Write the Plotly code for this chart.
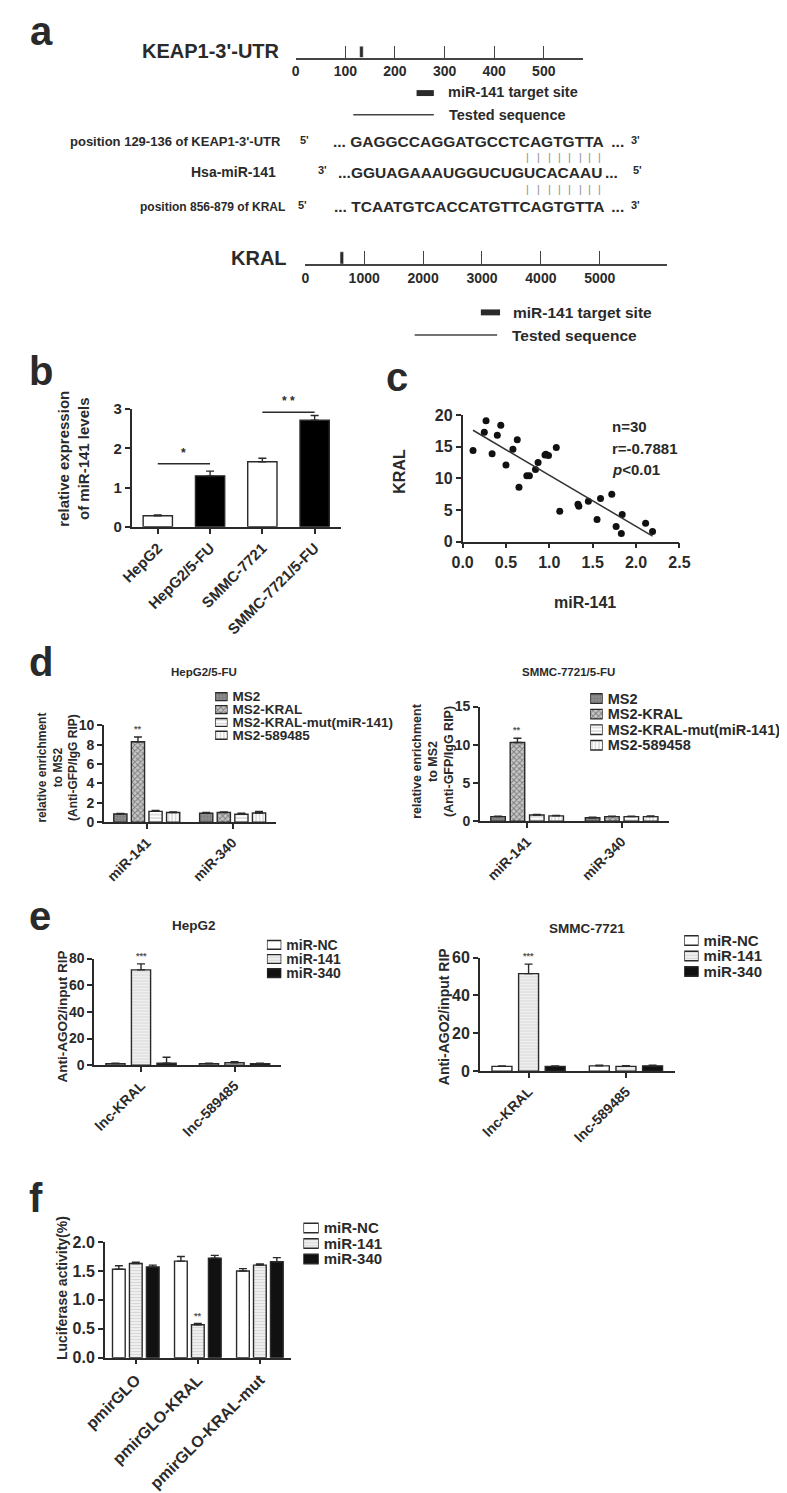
import numpy as np
import plotly.graph_objects as go

W, H = 787, 1493
FONT = "Liberation Sans, Arial, sans-serif"
INK = "#2a2a2a"
BARGAP, GROUPGAP = 0.18, 0.25

# ---------------- data ----------------
# a: transcript schematics
keap1_ticks = [0, 100, 200, 300, 400, 500]
keap1_site = [129, 136]
kral_ticks = [0, 1000, 2000, 3000, 4000, 5000]
kral_site = [590, 650]  # where the site mark sits on the drawn KRAL bar
seq_keap1 = "GAGGCCAGGATGCCTCAGTGTTA"
seq_mir141 = "GGUAGAAAUGGUCUGUCACAAU"
seq_kral = "TCAATGTCACCATGTTCAGTGTTA"
seed_len = 8

# b: miR-141 expression
b_cells = ["HepG2", "HepG2/5-FU", "SMMC-7721", "SMMC-7721/5-FU"]
b_mean = [0.28, 1.30, 1.66, 2.72]
b_err = [0.02, 0.12, 0.09, 0.12]
b_pairs = [(0, 1, 1.61, "*"), (2, 3, 2.92, "* *")]

# c: correlation
c_mir141 = [0.12, 0.25, 0.27, 0.34, 0.40, 0.44, 0.50, 0.58, 0.63, 0.65,
            0.74, 0.77, 0.84, 0.87, 0.96, 0.99, 1.08, 1.12, 1.33, 1.34,
            1.45, 1.55, 1.59, 1.72, 1.77, 1.84, 1.83, 2.11, 2.19, 0.95]
c_kral = [14.4, 17.3, 19.1, 13.9, 16.8, 18.4, 12.1, 14.6, 16.1, 8.6,
          10.4, 10.4, 11.4, 12.5, 13.8, 13.6, 14.9, 4.8, 5.9, 5.6,
          6.4, 3.5, 6.8, 7.5, 2.4, 4.3, 1.3, 2.9, 1.6, 13.7]
c_stats = ["n=30", "r=-0.7881", "<i>p</i>&lt;0.01"]

# d: MS2-RIP
d_groups = ["miR-141", "miR-340"]
dl_series = ["MS2", "MS2-KRAL", "MS2-KRAL-mut(miR-141)", "MS2-589485"]
dl_mean = [[0.85, 0.92], [8.30, 1.00], [1.12, 0.82], [1.00, 0.95]]
dl_err = [[0.05, 0.08], [0.50, 0.06], [0.10, 0.10], [0.05, 0.15]]
dr_series = ["MS2", "MS2-KRAL", "MS2-KRAL-mut(miR-141)", "MS2-589458"]
dr_mean = [[0.60, 0.45], [10.3, 0.60], [0.80, 0.60], [0.70, 0.60]]
dr_err = [[0.05, 0.08], [0.55, 0.05], [0.08, 0.05], [0.05, 0.08]]

# e: AGO2-RIP
e_groups = ["lnc-KRAL", "lnc-589485"]
e_series = ["miR-NC", "miR-141", "miR-340"]
el_mean = [[1.2, 1.2], [71.5, 1.8], [1.5, 1.2]]
el_err = [[0.3, 0.3], [4.5, 0.8], [4.5, 0.3]]
er_mean = [[2.5, 2.8], [51.5, 2.5], [2.5, 2.8]]
er_err = [[0.3, 0.3], [5.0, 0.4], [0.3, 0.3]]

# f: luciferase
f_groups = ["pmirGLO", "pmirGLO-KRAL", "pmirGLO-KRAL-mut"]
f_mean = [[1.53, 1.67, 1.50], [1.63, 0.57, 1.60], [1.57, 1.72, 1.66]]
f_err = [[0.06, 0.08, 0.04], [0.02, 0.02, 0.02], [0.03, 0.05, 0.07]]


# ---------------- helpers ----------------
def px(x):
    return x / W


def py(y):
    return 1 - y / H


def tfont(size, color=INK):
    return dict(family=FONT, size=size, color=color, weight="bold")


def marker(fill, shape="", fg=INK, size=4, solidity=0.3):
    return dict(color=fill, line=dict(color=INK, width=1.4),
                pattern=dict(shape=shape, fgcolor=fg, bgcolor=fill, size=size, solidity=solidity))


ms2_styles = [marker("#8f8f8f", ".", "#555555", 3, 0.3),
              marker("#c8c8c8", "x", "#333333", 4, 0.45),
              marker("white", "-", "#a0a0a0", 3.5, 0.35),
              marker("white", "|", "#a0a0a0", 3.5, 0.35)]
mir_styles = [marker("white"),
              marker("#efefef", "-", "#bdbdbd", 3, 0.3),
              marker("#111111")]

fig = go.Figure()
layout = {}
annots = []
shapes = []


def ax_name(n):
    return "" if n == 1 else str(n)


def set_axes(n, left, right, top, bottom, xa, ya):
    s = ax_name(n)
    layout["xaxis" + s] = dict(domain=[px(left), px(right)], anchor="y" + s, fixedrange=True, **xa)
    layout["yaxis" + s] = dict(domain=[py(bottom), py(top)], anchor="x" + s, fixedrange=True, **ya)
    return "x" + s, "y" + s


AXBASE = dict(showline=True, linecolor=INK, linewidth=1.6, ticks="outside", ticklen=5,
              tickwidth=1.6, tickcolor=INK, showgrid=False, zeroline=False)


def plot_axes(n, box, yrange, dtick, xsize, ysize, tickformat=None, xangle=-45):
    xa = dict(AXBASE, tickfont=tfont(xsize), tickangle=xangle)
    ya = dict(AXBASE, tickfont=tfont(ysize), range=yrange, dtick=dtick, tick0=0)
    if tickformat:
        ya["tickformat"] = tickformat
    return set_axes(n, *box, xa, ya)


def grouped_bars(refs, groups, series, means, errs, styles):
    x, y = refs
    for name, m, e, st in zip(series, means, errs, styles):
        fig.add_trace(go.Bar(x=groups, y=m, name=name, marker=st, xaxis=x, yaxis=y,
                             error_y=dict(type="data", array=e, arrayminus=[0] * len(e),
                                          symmetric=False, color=INK, thickness=1.4, width=4)))


def bar_offset(i, n):
    slot = (1 - BARGAP) / n
    return -(1 - BARGAP) / 2 + slot * (i + 0.5)


def star(refs, gi, si, n, mean, err, text, size=9):
    x, y = refs
    annots.append(dict(x=gi + bar_offset(si, n), y=mean[si][gi] + err[si][gi], xref=x, yref=y,
                       text=text, showarrow=False, yanchor="bottom", yshift=1,
                       font=tfont(size, "#555555")))


def legend_box(n, names, styles, left, right, top, bottom, size):
    xa = dict(range=[0, 1], visible=False)
    ya = dict(type="category", categoryorder="array", categoryarray=names, autorange="reversed",
              tickmode="array", tickvals=names, ticktext=names,
              side="right", showline=False, ticks="", showgrid=False, zeroline=False,
              tickfont=tfont(size), ticklabelstandoff=4)
    x, y = set_axes(n, left, right, top, bottom, xa, ya)
    for name, st in zip(names, styles):
        fig.add_trace(go.Bar(x=[1], y=[name], orientation="h", marker=st, offsetgroup="leg",
                             xaxis=x, yaxis=y, hoverinfo="skip"))


def text(x, y, s, size, anchor="left", angle=0, color=INK, bold=True):
    f = tfont(size, color) if bold else dict(family=FONT, size=size, color=color)
    annots.append(dict(x=px(x), y=py(y), xref="paper", yref="paper", text=s, showarrow=False,
                       xanchor=anchor, yanchor="middle", textangle=angle, font=f, borderpad=0))


# ---------------- a ----------------
# advance widths of Arial bold capitals (em) to line the pairing bars up with the letters
EM = {"A": 0.722, "C": 0.722, "G": 0.778, "T": 0.611, "U": 0.722}


def schematic(n, box, span, ticks, site, size):
    xa = dict(range=[0, span], tickvals=ticks, showline=True, linecolor="#444444", linewidth=1.5,
              ticks="inside", ticklen=box[3] - box[2], tickwidth=1.4, tickcolor="#444444",
              showgrid=False, zeroline=False, tickfont=tfont(size))
    ya = dict(range=[0, 1], visible=False)
    x, y = set_axes(n, *box, xa, ya)
    fig.add_trace(go.Bar(x=[np.mean(site)], y=[0.95], width=[site[1] - site[0]],
                         marker=dict(color=INK), xaxis=x, yaxis=y))


def sequence(y, core, right, size, lead, tail, end_mark, end_x):
    text(right, y, lead + core, size, "right")
    text(right + 1, y, tail, size)
    text(end_x, y - 2, end_mark, 11, "center")


def pair_bars(y, core, right, size):
    pos = right
    for ch in core[::-1][:seed_len]:
        w = EM[ch] * size
        text(pos - w / 2, y, "|", 11, "center", color="#8c8c8c", bold=False)
        pos -= w


schematic(1, (278, 578, 29, 41), 580, keap1_ticks, keap1_site, 14)
schematic(2, (288, 665, 237, 250), 6140, kral_ticks, kral_site, 14)

text(0, 14, "a", 40)
text(263, 34, "KEAP1-3'-UTR", 20, "right")
text(436, 76, "miR-141 target site", 14.5)
text(437, 99, "Tested sequence", 14.5)
shapes.append(dict(type="rect", x0=px(404), x1=px(422), y0=py(80), y1=py(74), xref="paper",
                   yref="paper", fillcolor=INK, line=dict(width=0)))
shapes.append(dict(type="line", x0=px(338), x1=px(422), y0=py(99), y1=py(99), xref="paper",
                   yref="paper", line=dict(color="#444444", width=1.5)))

SEQ = 15.5
SEQ_END = 600
text(264, 126, "position 129-136 of KEAP1-3'-UTR", 13, "right")
text(287, 124, "5'", 11, "center")
sequence(126, seq_keap1, SEQ_END, SEQ, "... ", " ...", "3'", 632)
pair_bars(142, seq_keap1, SEQ_END, SEQ)
text(258, 157, "Hsa-miR-141", 14, "right")
text(306, 155, "3'", 11, "center")
sequence(157, seq_mir141, SEQ_END - 2, SEQ, "...", "...", "5'", 634)
pair_bars(174, seq_keap1, SEQ_END, SEQ)
text(268, 192, "position 856-879 of KRAL", 12, "right")
text(285, 190, "5'", 11, "center")
sequence(192, seq_kral, SEQ_END, SEQ, "... ", " ...", "3'", 632)

text(270, 244, "KRAL", 20, "right")
text(503, 299, "miR-141 target site", 15.5)
text(502, 322, "Tested sequence", 15.5)
shapes.append(dict(type="rect", x0=px(471), x1=px(491), y0=py(302), y1=py(296), xref="paper",
                   yref="paper", fillcolor=INK, line=dict(width=0)))
shapes.append(dict(type="line", x0=px(402), x1=px(488), y0=py(322), y1=py(322), xref="paper",
                   yref="paper", line=dict(color="#444444", width=1.5)))

# ---------------- b ----------------
rb = plot_axes(3, (107, 325, 397, 516), [0, 3], 1, 15, 15)
fig.add_trace(go.Bar(x=b_cells, y=b_mean, width=0.56, xaxis=rb[0], yaxis=rb[1],
                     marker=dict(color=["white", "black", "white", "black"],
                                 line=dict(color=INK, width=1.4)),
                     error_y=dict(type="data", array=b_err, arrayminus=[0] * 4, symmetric=False,
                                  color=INK, thickness=1.4, width=4)))
for i0, i1, yv, s in b_pairs:
    shapes.append(dict(type="line", x0=i0, x1=i1, y0=yv, y1=yv, xref=rb[0], yref=rb[1],
                       line=dict(color=INK, width=1.5)))
    annots.append(dict(x=(i0 + i1) / 2, y=yv, xref=rb[0], yref=rb[1], text=s, showarrow=False,
                       yanchor="bottom", yshift=2, font=tfont(12)))
text(-1, 358, "b", 40)
text(47, 447, "relative expression<br>of miR-141 levels", 15, "center", angle=-90)

# ---------------- c ----------------
rc = set_axes(4, 452, 678, 403, 531,
              dict(AXBASE, range=[0, 2.5], dtick=0.5, tickformat=".1f", tickfont=tfont(16)),
              dict(AXBASE, range=[0, 20], dtick=5, tickfont=tfont(16)))
fig.add_trace(go.Scatter(x=c_mir141, y=c_kral, mode="markers", xaxis=rc[0], yaxis=rc[1],
                         marker=dict(color="#111111", size=7)))
k, b0 = np.polyfit(c_mir141, c_kral, 1)
xs = np.array([min(c_mir141), max(c_mir141)])
fig.add_trace(go.Scatter(x=xs, y=k * xs + b0, mode="lines", xaxis=rc[0], yaxis=rc[1],
                         line=dict(color="#333333", width=1.5)))
text(371, 364, "c", 40)
text(386, 460, "KRAL", 16, "center", angle=-90)
text(580, 593, "miR-141", 16, "center")
for i, s in enumerate(c_stats):
    text(607, 415 + i * 21.5, s, 15)

# ---------------- d ----------------
rdl = plot_axes(5, (78, 257, 717, 815), [0, 10], 2, 14, 14)
grouped_bars(rdl, d_groups, dl_series, dl_mean, dl_err, ms2_styles)
star(rdl, 0, 1, 4, dl_mean, dl_err, "**")
legend_box(10, dl_series, ms2_styles, 194, 207, 681.5, 733.5, 13.5)
text(182, 663, "HepG2/5-FU", 11.5, "center")
text(30, 760, "relative enrichment<br>to MS2<br>(Anti-GFP/IgG RIP)", 12, "center", angle=-90)
text(-1, 653, "d", 40)

rdr = plot_axes(6, (470, 667, 698, 814), [0, 15], 5, 14, 14)
grouped_bars(rdr, d_groups, dr_series, dr_mean, dr_err, ms2_styles)
star(rdr, 0, 1, 4, dr_mean, dr_err, "**")
legend_box(11, dr_series, ms2_styles, 585, 598, 682, 745, 14.5)
text(562, 663, "SMMC-7721/5-FU", 11.5, "center")
text(422, 753, "relative enrichment<br>to MS2<br>(Anti-GFP/IgG RIP)", 12.5, "center", angle=-90)

# ---------------- e ----------------
rel = plot_axes(7, (68, 263, 953, 1061), [0, 80], 20, 14, 14)
grouped_bars(rel, e_groups, e_series, el_mean, el_err, mir_styles)
star(rel, 0, 1, 3, el_mean, el_err, "***")
legend_box(12, e_series, mir_styles, 248, 263, 932, 975, 14)
text(172, 920, "HepG2", 13.5, "center")
text(35, 1012, "Anti-AGO2/input RIP", 13.5, "center", angle=-90)
text(-1, 910, "e", 40)

rer = plot_axes(8, (470, 673, 952, 1067), [0, 60], 20, 14, 16)
grouped_bars(rer, e_groups, e_series, er_mean, er_err, mir_styles)
star(rer, 0, 1, 3, er_mean, er_err, "***")
legend_box(13, e_series, mir_styles, 683, 698, 927, 974, 15)
text(582, 923, "SMMC-7721", 13.5, "center")
text(432, 1012, "Anti-AGO2/input RIP", 14, "center", angle=-90)

# ---------------- f ----------------
rf = plot_axes(9, (79, 273, 1240, 1357), [0, 2], 0.5, 16, 16, tickformat=".1f")
grouped_bars(rf, f_groups, e_series, f_mean, f_err, mir_styles)
star(rf, 1, 1, 3, f_mean, f_err, "**")
legend_box(14, e_series, mir_styles, 286, 302, 1218, 1265, 15)
text(35, 1287, "Luciferase activity(%)", 14, "center", angle=-90)
text(-1, 1195, "f", 40)

fig.update_layout(
    width=W, height=H, margin=dict(l=0, r=0, t=0, b=0),
    paper_bgcolor="white", plot_bgcolor="white", showlegend=False,
    barmode="group", bargap=BARGAP, bargroupgap=GROUPGAP,
    font=dict(family=FONT, color=INK),
    annotations=annots, shapes=shapes, **layout)
fig.write_html("out.html")
